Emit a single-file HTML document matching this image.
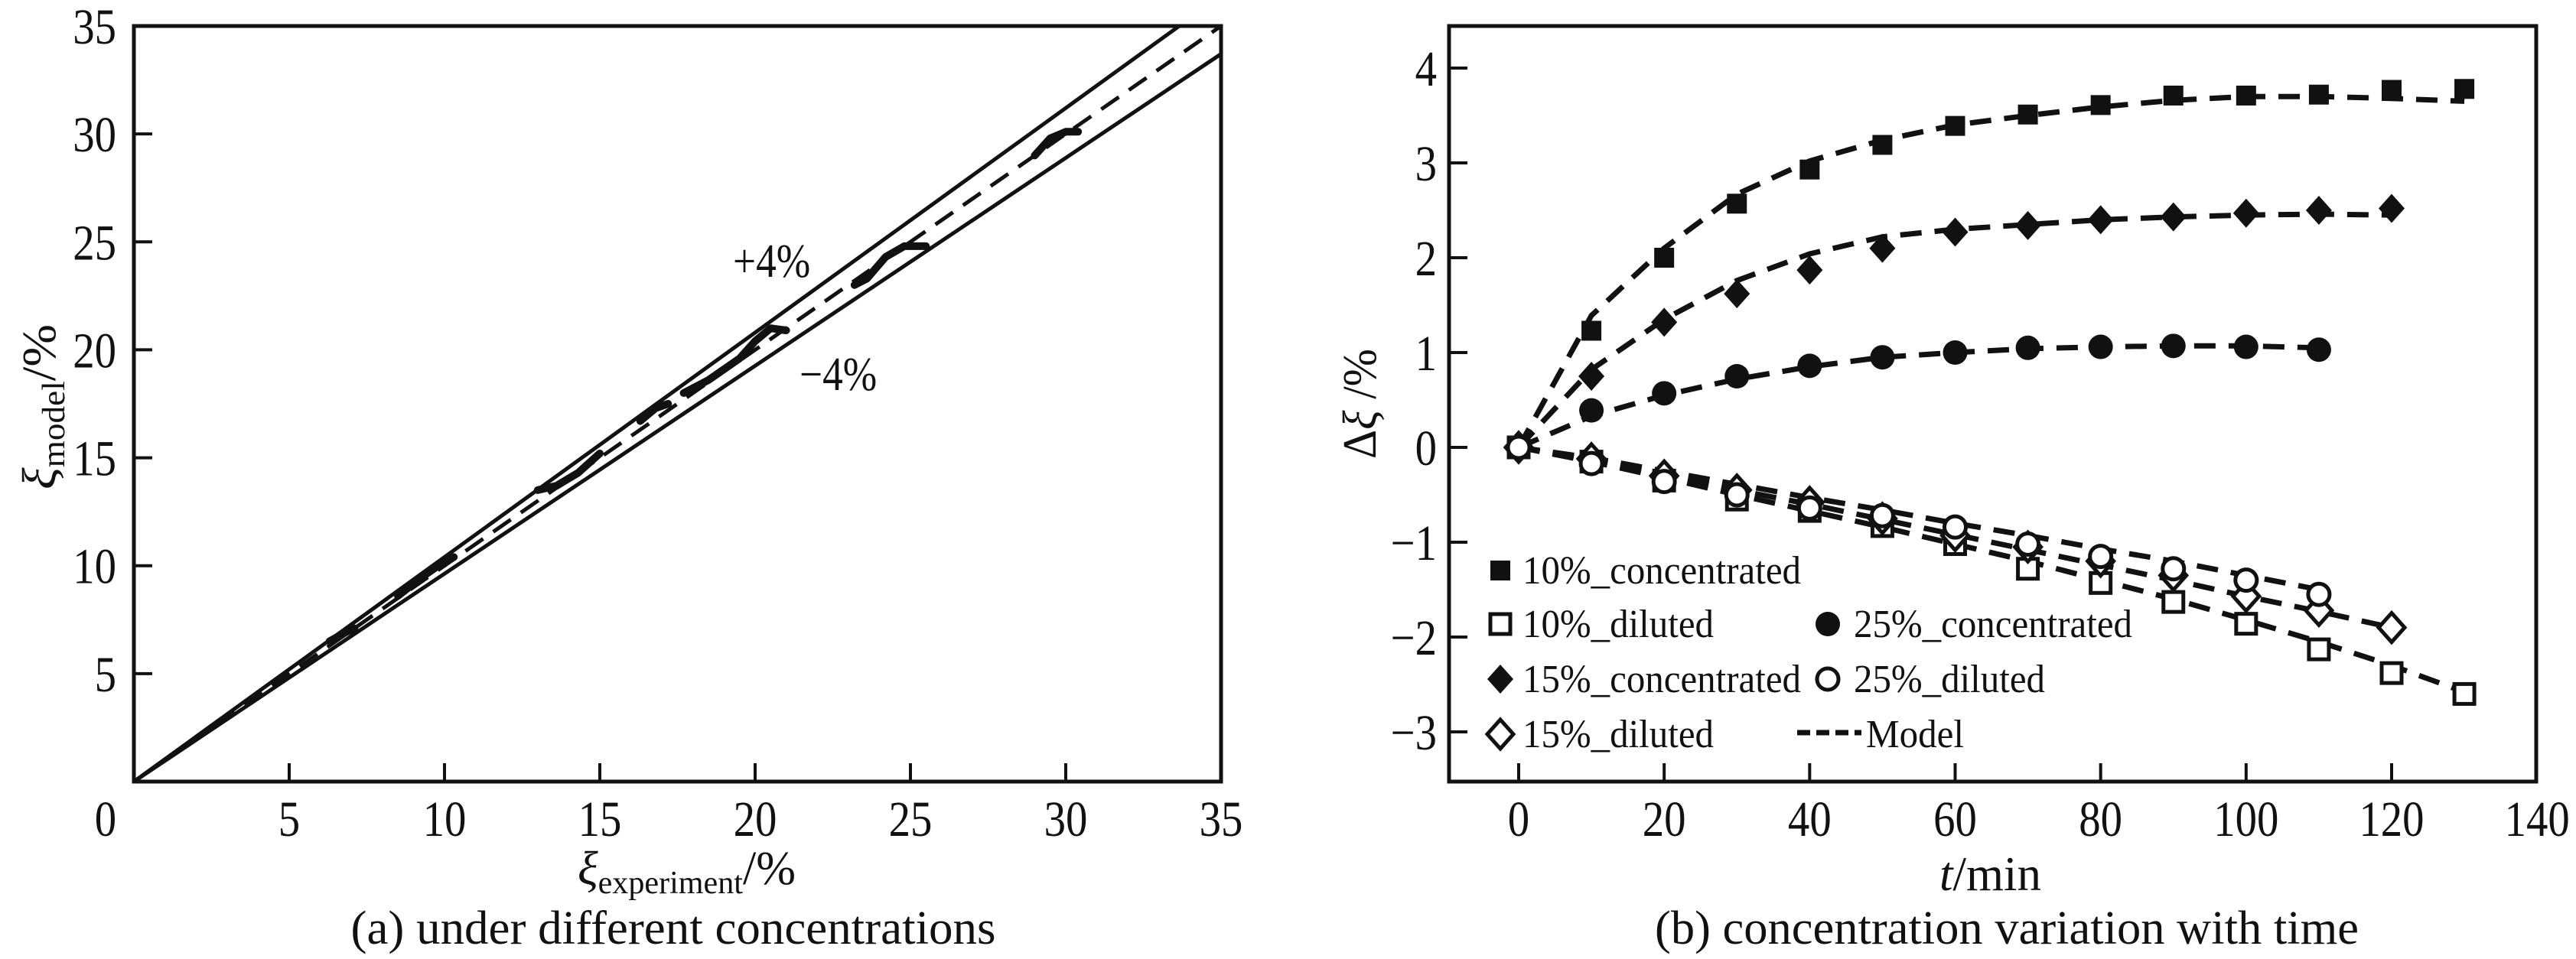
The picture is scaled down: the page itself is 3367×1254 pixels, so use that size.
<!DOCTYPE html>
<html><head><meta charset="utf-8">
<style>
html,body{margin:0;padding:0;background:#fff;}
svg{display:block;}
text{font-family:"Liberation Serif",serif;fill:#111;}
</style></head>
<body>
<svg id="fig" width="3367" height="1254" viewBox="0 0 3367 1254" xmlns="http://www.w3.org/2000/svg">
<g id="chartA"></g>
<g id="chartB"></g>
</svg>
<script>
// ---------- Chart (a) data ----------
const aTicks = [0,5,10,15,20,25,30,35];
const aTickLabels = ["0","5","10","15","20","25","30","35"];
const aBandUpper = 1.04;
const aBandLower = 0.963;
const aSeg1x = [6.3,6.8,7.1];      const aSeg1y = [6.5,6.9,7.1];
const aSeg2x = [8.5,9.3,10.0,10.3]; const aSeg2y = [8.6,9.5,10.2,10.4];
const aSeg3x = [13.0,13.6,14.3,15.0]; const aSeg3y = [13.5,13.7,14.3,15.2];
const aSeg4x = [16.3,16.8,17.2];   const aSeg4y = [16.7,17.3,17.5];
const aSeg5x = [17.7,18.5,19.5,20.0,20.5,21.0]; const aSeg5y = [18.0,18.6,19.6,20.4,21.0,20.9];
const aSeg6x = [23.2,23.6,24.2,24.8,25.5]; const aSeg6y = [23.0,23.3,24.3,24.8,24.8];
const aSeg7x = [29.0,29.5,30.0,30.4]; const aSeg7y = [29.0,29.8,30.1,30.1];

// ---------- Chart (b) data ----------
const bXTicks = [0,20,40,60,80,100,120,140];
const bXTickLabels = ["0","20","40","60","80","100","120","140"];
const bYTicks = [-3,-2,-1,0,1,2,3,4];
const bYTickLabels = ["−3","−2","−1","0","1","2","3","4"];
const tConc10 = [0,10,20,30,40,50,60,70,80,90,100,110,120,130];
const conc10 = [0,1.23,2.0,2.57,2.93,3.19,3.39,3.51,3.61,3.71,3.71,3.72,3.77,3.78];
const conc10Model = [0,1.39,2.1,2.67,3.02,3.24,3.4,3.5,3.59,3.66,3.7,3.7,3.68,3.65];
const tConc15 = [0,10,20,30,40,50,60,70,80,90,100,110,120];
const conc15 = [0,0.75,1.32,1.62,1.87,2.1,2.27,2.34,2.4,2.43,2.47,2.5,2.52];
const conc15Model = [0,0.82,1.35,1.76,2.04,2.22,2.3,2.35,2.4,2.43,2.45,2.46,2.45];
const tConc25 = [0,10,20,30,40,50,60,70,80,90,100,110];
const conc25 = [0,0.39,0.57,0.75,0.86,0.95,1.0,1.05,1.06,1.07,1.06,1.03];
const conc25Model = [0,0.33,0.55,0.72,0.85,0.95,1.0,1.04,1.06,1.07,1.07,1.05];
const tDil10 = [0,10,20,30,40,50,60,70,80,90,100,110,120,130];
const dil10 = [0,-0.15,-0.35,-0.55,-0.67,-0.83,-1.02,-1.28,-1.43,-1.63,-1.86,-2.13,-2.38,-2.6];
const dil10Model = [0,-0.15,-0.32,-0.5,-0.67,-0.84,-1.02,-1.2,-1.4,-1.6,-1.82,-2.05,-2.3,-2.58];
const tDil15 = [0,10,20,30,40,50,60,70,80,90,100,110,120];
const dil15 = [0,-0.12,-0.3,-0.45,-0.58,-0.75,-0.93,-1.05,-1.2,-1.35,-1.57,-1.72,-1.9];
const dil15Model = [0,-0.13,-0.29,-0.45,-0.6,-0.76,-0.92,-1.08,-1.24,-1.4,-1.57,-1.73,-1.9];
const tDil25 = [0,10,20,30,40,50,60,70,80,90,100,110];
const dil25 = [0,-0.17,-0.36,-0.5,-0.64,-0.72,-0.84,-1.02,-1.15,-1.28,-1.4,-1.55];
const dil25Model = [0,-0.11,-0.25,-0.39,-0.53,-0.66,-0.8,-0.93,-1.07,-1.2,-1.35,-1.5];

const NS = "http://www.w3.org/2000/svg";
function mk(tag, parent, attrs){ const e=document.createElementNS(NS,tag); for(const k in attrs) e.setAttribute(k,attrs[k]); parent.appendChild(e); return e; }

// ===== Chart (a) =====
(function(){
  const g = document.getElementById('chartA');
  const L=175,R=1596,T=34,B=1022;
  const sx = v => L + (v/35)*(R-L);
  const sy = v => B - (v/35)*(B-T);
  const clip = mk('clipPath', g, {id:'clipA'});
  mk('rect', clip, {x:L,y:T,width:R-L,height:B-T});
  const plot = mk('g', g, {'clip-path':'url(#clipA)'});
  
  
  let l = mk('line', plot, {x1:sx(0),y1:sy(0),x2:sx(40),y2:sy(40*aBandUpper),stroke:'#111','stroke-width':5});
   
  l = mk('line', plot, {x1:sx(0),y1:sy(0),x2:sx(40),y2:sy(40*aBandLower),stroke:'#111','stroke-width':5});
   
  l = mk('line', plot, {x1:sx(0),y1:sy(0),x2:sx(35),y2:sy(35),stroke:'#111','stroke-width':5,'stroke-dasharray':'28 16'});
   
  const segs=[[aSeg1x,aSeg1y],[aSeg2x,aSeg2y],[aSeg3x,aSeg3y],[aSeg4x,aSeg4y],[aSeg5x,aSeg5y],[aSeg6x,aSeg6y],[aSeg7x,aSeg7y]];
  segs.forEach((s,i)=>{
    const d = s[0].map((x,j)=>(j?'L':'M')+sx(x).toFixed(1)+' '+sy(s[1][j]).toFixed(1)).join(' ');
    const p = mk('path', plot, {d:d,fill:'none',stroke:'#111','stroke-width':10,'stroke-linecap':'round','stroke-linejoin':'round'});
    
    
  });
  const frame = mk('rect', g, {x:L,y:T,width:R-L,height:B-T,fill:'none',stroke:'#111','stroke-width':5});
   
  aTicks.forEach((v,i)=>{
    if(v>0 && v<35){
      const tx = mk('line', g, {x1:sx(v),y1:B,x2:sx(v),y2:B-24,stroke:'#111','stroke-width':4});
       
      const ty = mk('line', g, {x1:L,y1:sy(v),x2:L+24,y2:sy(v),stroke:'#111','stroke-width':4});
       
    }
    const xl = mk('text', g, {x:v===0?138:sx(v),y:1093,'font-size':66,'text-anchor':'middle','class':'cond'});
    xl.textContent = aTickLabels[i];
     
    if(v>0){
      const yl = mk('text', g, {x:152,y:sy(v)+23,'font-size':66,'text-anchor':'end','class':'cond'});
      yl.textContent = aTickLabels[i];
       
    }
  });
})();
</script>
<script>
// ===== Chart (b) =====
(function(){
  const g = document.getElementById('chartB');
  const L=1894,R=3315,T=34,B=1022;
  const sx = v => 1985 + v*(3126-1985)/120;
  const sy = v => 585 - v*124;
  const frame = mk('rect', g, {x:L,y:T,width:R-L,height:B-T,fill:'none',stroke:'#111','stroke-width':5});
   
  bXTicks.forEach((v,i)=>{
    if(v<140){
      const t = mk('line', g, {x1:sx(v),y1:B,x2:sx(v),y2:B-24,stroke:'#111','stroke-width':4});
       
    }
    const xl = mk('text', g, {x:sx(v),y:1093,'font-size':66,'text-anchor':'middle','class':'cond'});
    xl.textContent = bXTickLabels[i];
     
  });
  bYTicks.forEach((v,i)=>{
    const t = mk('line', g, {x1:L,y1:sy(v),x2:L+24,y2:sy(v),stroke:'#111','stroke-width':4});
     
    const yl = mk('text', g, {x:1878,y:sy(v)+23,'font-size':66,'text-anchor':'end','class':'cond'});
    yl.textContent = bYTickLabels[i];
     
  });
  function model(ts, ys, name){
    const d = ts.map((t,j)=>(j?'L':'M')+sx(t).toFixed(1)+' '+sy(ys[j]).toFixed(1)).join(' ');
    const p = mk('path', g, {d:d,fill:'none',stroke:'#111','stroke-width':7,'stroke-dasharray':'28 17'});
    
    
  }
  function marker(shape, filled, cx, cy, parent){
    const fill = filled?'#111':'#fff';
    let e;
    if(shape==='sq') e = mk('rect', parent, {x:cx-13,y:cy-13,width:26,height:26,fill:fill,stroke:'#111','stroke-width':filled?0:5});
    else if(shape==='ci') e = mk('circle', parent, {cx:cx,cy:cy,r:filled?16:14,fill:fill,stroke:'#111','stroke-width':filled?0:5});
    else e = mk('polygon', parent, {points:`${cx},${cy-19} ${cx+17},${cy} ${cx},${cy+19} ${cx-17},${cy}`,fill:fill,stroke:'#111','stroke-width':filled?0:5});
    return e;
  }
  function series(ts, ys, shape, filled, name){
    const grp = mk('g', g, {});
    
    
    ts.forEach((t,j)=>{
      const m = marker(shape, filled, sx(t), sy(ys[j]), grp);
      
      
    });
  }
  model(tConc10, conc10Model, 'model-10-concentrated');
  model(tConc15, conc15Model, 'model-15-concentrated');
  model(tConc25, conc25Model, 'model-25-concentrated');
  model(tDil10, dil10Model, 'model-10-diluted');
  model(tDil15, dil15Model, 'model-15-diluted');
  model(tDil25, dil25Model, 'model-25-diluted');
  series(tConc10, conc10, 'sq', true, 'series-10-concentrated');
  series(tConc15, conc15, 'di', true, 'series-15-concentrated');
  series(tConc25, conc25, 'ci', true, 'series-25-concentrated');
  series(tDil10, dil10, 'sq', false, 'series-10-diluted');
  series(tDil15, dil15, 'di', false, 'series-15-diluted');
  series(tDil25, dil25, 'ci', false, 'series-25-diluted');

  const lg = mk('g', g, {});
  
  
  const entries = [
    ['sq',true,1961,746,1990,'10%_concentrated',364],
    ['sq',false,1961,816,1990,'10%_diluted',250],
    ['di',true,1961,888,1990,'15%_concentrated',364],
    ['di',false,1961,960,1990,'15%_diluted',250],
    ['ci',true,2389,816,2423,'25%_concentrated',364],
    ['ci',false,2389,888,2423,'25%_diluted',250]
  ];
  entries.forEach(e=>{
    const m = marker(e[0], e[1], e[2], e[3], lg);
    
    
    const t = mk('text', lg, {x:e[4],y:e[3]+17,'font-size':52,textLength:e[6],lengthAdjust:'spacingAndGlyphs'});
    t.textContent = e[5];
    
    
  });
  const ml = mk('line', lg, {x1:2349,y1:958,x2:2433,y2:958,stroke:'#111','stroke-width':7,'stroke-dasharray':'17 8'});
  
  
  const mt = mk('text', lg, {x:2439,y:977,'font-size':52,textLength:128,lengthAdjust:'spacingAndGlyphs'});
  mt.textContent = 'Model';
  
  
})();
</script>
<script>
(function(){
  const s = document.getElementById('fig');
  s.insertAdjacentHTML('beforeend', `
  <text class="cond" x="958" y="362" font-size="62">+4%</text>
  <text class="cond" x="1045" y="510" font-size="62">−4%</text>
  <text x="755" y="1156" font-size="62" textLength="285" lengthAdjust="spacingAndGlyphs"><tspan font-style="italic">ξ</tspan><tspan font-size="42" dy="12">experiment</tspan><tspan dy="-12">/%</tspan></text>
  <text transform="translate(72,640) rotate(-90)" font-size="62" textLength="216" lengthAdjust="spacingAndGlyphs"><tspan font-style="italic">ξ</tspan><tspan font-size="42" dy="12">model</tspan><tspan dy="-12">/%</tspan></text>
  <text x="880" y="1234" font-size="62" text-anchor="middle" textLength="843" lengthAdjust="spacingAndGlyphs">(a) under different concentrations</text>
  <text x="2535" y="1164" font-size="64" textLength="133" lengthAdjust="spacingAndGlyphs"><tspan font-style="italic">t</tspan>/min</text>
  <text transform="translate(1798,600) rotate(-90)" font-size="62" textLength="144" lengthAdjust="spacingAndGlyphs">Δ<tspan font-style="italic">ξ</tspan> /%</text>
  <text x="2623" y="1234" font-size="62" text-anchor="middle" textLength="920" lengthAdjust="spacingAndGlyphs">(b) concentration variation with time</text>
  `);
  document.querySelectorAll('text.cond').forEach(t=>{
    const w = t.getComputedTextLength();
    if(w>0){ t.setAttribute('textLength', (w*0.86).toFixed(1)); t.setAttribute('lengthAdjust','spacingAndGlyphs'); }
  });
})();
</script>
</body></html>
